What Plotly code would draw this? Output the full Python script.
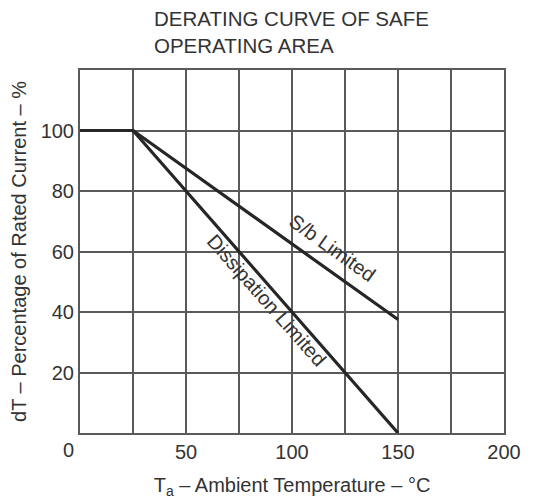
import plotly.graph_objects as go

temp_sb = [0, 25, 150]
current_sb = [100, 100, 37.5]
temp_diss = [0, 25, 150]
current_diss = [100, 100, 0]
x_ticks = [0, 50, 100, 150, 200]
y_ticks = [20, 40, 60, 80, 100]
title_text = "DERATING CURVE OF SAFE<br>OPERATING AREA"

line_color = "#262626"
grid_color = "#5a5a5a"
text_color = "#333333"
font = "Liberation Sans, Arial, sans-serif"

W, H = 525, 492
L, R, T, B = 72, 29, 62, 67

fig = go.Figure()
fig.add_trace(go.Scatter(x=temp_sb, y=current_sb, mode="lines",
                         line=dict(color=line_color, width=3.2), showlegend=False))
fig.add_trace(go.Scatter(x=temp_diss, y=current_diss, mode="lines",
                         line=dict(color=line_color, width=3.2), showlegend=False))

fig.add_annotation(x=119, y=61, text="S/b Limited", showarrow=False, textangle=35.5,
                   font=dict(family=font, size=20, color=text_color), xanchor="center", yanchor="middle")
fig.add_annotation(x=88, y=44, text="Dissipation Limited", showarrow=False, textangle=48.5,
                   font=dict(family=font, size=20, color=text_color), xanchor="center", yanchor="middle")
# shared origin label, set slightly left of the corner as in the reference
fig.add_annotation(x=0, y=0, text="0", showarrow=False, xshift=-12, yshift=-17,
                   font=dict(family=font, size=20, color=text_color), xanchor="center", yanchor="middle")

fig.update_layout(
    width=W, height=H,
    margin=dict(l=L, r=R, t=T, b=B),
    paper_bgcolor="white", plot_bgcolor="white",
    font=dict(family=font, color=text_color),
    title=dict(text=title_text, x=146 / W, xanchor="left",
               y=1 - 18 / H, yanchor="middle", font=dict(family=font, size=20.5, color=text_color)),
)
xt = list(range(0, 201, 25))
fig.update_xaxes(range=[0, 200], tickvals=xt,
                 ticktext=[str(v) if (v in x_ticks and v != 0) else "" for v in xt],
                 showgrid=True, gridcolor=grid_color, gridwidth=1.6, automargin=False,
                 showline=True, linecolor=grid_color, linewidth=2, mirror=True,
                 ticks="", tickfont=dict(size=20, color=text_color), zeroline=False,
                 title=dict(text="T<sub>a</sub> – Ambient Temperature – °C",
                            font=dict(size=20, color=text_color), standoff=16))
fig.update_yaxes(range=[0, 120], tickvals=[0, 20, 40, 60, 80, 100, 120],
                 ticktext=["", "20", "40", "60", "80", "100", ""],
                 showgrid=True, gridcolor=grid_color, gridwidth=1.6, automargin=False,
                 showline=True, linecolor=grid_color, linewidth=2, mirror=True,
                 ticks="", tickfont=dict(size=20, color=text_color), zeroline=False,
                 title=dict(text="dT – Percentage of Rated Current – %",
                            font=dict(size=20, color=text_color), standoff=10))

fig.write_html("out.html")
